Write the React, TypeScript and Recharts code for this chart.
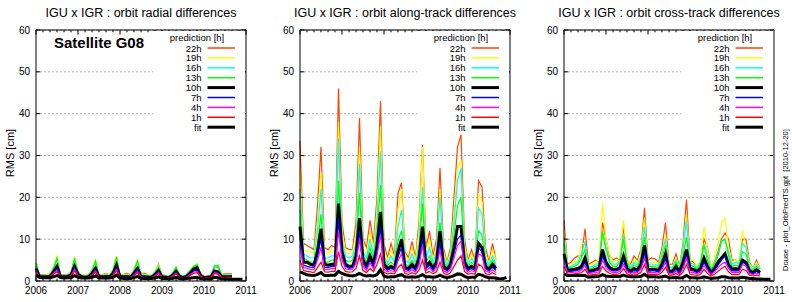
import { LineChart, Line, XAxis, YAxis, CartesianGrid, ReferenceLine } from "recharts";

// monthly sampling, 2006.0 .. 2010.92
const MONTHS = Array.from({ length: 60 }, (_, i) => 2006 + i / 12);
const YEAR_TICKS = [2006, 2007, 2008, 2009, 2010, 2011];
const MINOR_TICKS = Array.from({ length: 31 }, (_, i) => 2006 + i / 6).filter((v) => Math.abs(v - Math.round(v)) > 0.01);
const RMS_TICKS = [0, 10, 20, 30, 40, 50, 60];

// ---- radial ----
const RADIAL_22H = [
  3.5, 1.6, 1.5, 1.5, 1.7, 3, 5, 1.6, 1.4, 1.6,
  2, 4.5, 2.2, 1.5, 1.3, 1.5, 2.5, 4.5, 1.4, 1.5,
  1.8, 1.5, 2.5, 5, 1.5, 1.6, 1.8, 1.4, 2.5, 4.5,
  1.8, 1.8, 1.5, 1.3, 2.2, 4, 1.5, 1.3, 1.2, 1.8,
  3.3, 1.6, 1.1, 1.5, 2.5, 3.5, 4, 1.8, 1.1, 1.2,
  1.4, 3.5, 3.2, 1.6, 1.7, 1.7, 1.7,
];
const RADIAL_19H = [
  4.5, 1.5, 1.4, 1.4, 1.6, 3.5, 6, 1.5, 1.3, 1.5,
  2.2, 5.5, 2.4, 1.4, 1.2, 1.4, 2.8, 5, 1.3, 1.4,
  1.7, 1.4, 2.8, 6, 1.4, 1.5, 1.6, 1.3, 2.8, 5,
  1.7, 1.6, 1.4, 1.2, 2.4, 3.8, 1.4, 1.2, 1.1, 2,
  3.4, 1.7, 1, 1.6, 2.6, 3.6, 4.2, 1.8, 1, 1.1,
  1.3, 3.6, 3.5, 1.5, 1.5, 1.5, 1.5,
];
const RADIAL_16H = [
  4, 1.4, 1.3, 1.3, 1.5, 3.2, 5, 1.4, 1.3, 1.4,
  2, 5, 2.2, 1.3, 1.2, 1.3, 2.5, 4.5, 1.3, 1.3,
  1.5, 1.3, 2.5, 5, 1.3, 1.3, 1.4, 1.2, 2.6, 4.5,
  1.5, 1.4, 1.3, 1.2, 2.2, 3.5, 1.3, 1.1, 1.1, 1.9,
  3.2, 1.6, 1, 1.5, 2.5, 3.5, 4, 1.7, 1, 1.1,
  1.3, 3.7, 3.6, 1.5, 1.4, 1.4, 1.4,
];
const RADIAL_13H = [
  4.3, 1.3, 1.2, 1.2, 1.4, 3, 5.5, 1.3, 1.2, 1.3,
  1.8, 5.5, 2, 1.2, 1.1, 1.2, 2.4, 4.8, 1.2, 1.2,
  1.4, 1.2, 2.5, 5.8, 1.2, 1.2, 1.3, 1.1, 2.5, 4.8,
  1.3, 1.3, 1.2, 1.1, 2, 3.3, 1.2, 1, 1, 1.8,
  3.3, 1.5, 0.9, 1.4, 2.4, 3.4, 3.8, 1.6, 0.9, 1,
  1.2, 3.4, 3.8, 1.4, 1.3, 1.3, 1.3,
];
const RADIAL_10H = [
  3, 1, 1, 1, 1.1, 2.2, 3.5, 1.1, 1, 1.1,
  1.4, 3.5, 1.6, 1, 0.9, 1, 1.8, 3, 1, 1,
  1.1, 1, 1.8, 3.8, 1, 1, 1.1, 0.9, 1.8, 3,
  1, 1, 0.9, 0.9, 1.5, 2.5, 1, 0.9, 0.8, 1.3,
  2.3, 1.1, 0.8, 1.1, 1.8, 2.8, 3.2, 1.3, 0.8, 0.9,
  1, 2.4, 2.2, 1, 1, 1, 1,
];
const RADIAL_7H = [
  2.8, 1, 0.9, 0.9, 1, 2, 3, 1, 0.9, 1,
  1.3, 3.2, 1.5, 0.9, 0.9, 0.9, 1.6, 2.8, 0.9, 0.9,
  1, 0.9, 1.6, 3.3, 0.9, 0.9, 1, 0.9, 1.6, 2.8,
  1, 0.9, 0.9, 0.8, 1.4, 2.3, 0.9, 0.8, 0.8, 1.2,
  2.1, 1, 0.8, 1, 1.7, 2.4, 2.6, 1.2, 0.8, 0.8,
  0.9, 2.2, 2, 1, 0.9, 0.9, 0.9,
];
const RADIAL_4H = [
  2.4, 0.9, 0.9, 0.9, 0.9, 1.8, 2.5, 0.9, 0.9, 1,
  1.2, 2.8, 1.3, 0.9, 0.8, 0.9, 1.4, 2.4, 0.9, 0.9,
  1, 0.9, 1.4, 2.8, 0.9, 0.8, 0.9, 0.8, 1.4, 2.3,
  0.9, 0.9, 0.8, 0.8, 1.2, 2, 0.8, 0.8, 0.7, 1.1,
  1.9, 0.9, 0.7, 0.9, 1.5, 2.1, 2.3, 1.1, 0.7, 0.8,
  0.8, 2, 1.8, 0.9, 0.9, 0.9, 0.9,
];
const RADIAL_1H = [
  2.2, 0.9, 0.8, 0.8, 0.9, 1.6, 2.2, 0.9, 0.8, 0.9,
  1.1, 2.4, 1.2, 0.8, 0.8, 0.8, 1.3, 2.1, 0.8, 0.8,
  0.9, 0.8, 1.3, 2.4, 0.8, 0.8, 0.8, 0.8, 1.2, 2,
  0.8, 0.8, 0.7, 0.7, 1.1, 1.8, 0.8, 0.7, 0.7, 1,
  1.7, 0.9, 0.7, 0.8, 1.3, 1.8, 2, 1, 0.7, 0.7,
  0.8, 1.8, 1.6, 0.8, 0.8, 0.8, 0.8,
];
const RADIAL_FIT = [
  1.5, 0.9, 0.8, 0.8, 0.8, 1, 1.3, 0.8, 0.7, 0.8,
  0.8, 1.3, 0.9, 0.7, 0.7, 0.7, 0.9, 1.2, 0.7, 0.7,
  0.8, 0.7, 0.9, 1.4, 0.7, 0.6, 0.6, 0.6, 0.8, 1.1,
  0.6, 0.6, 0.6, 0.6, 0.7, 1, 0.6, 0.6, 0.5, 0.6,
  0.9, 0.6, 0.5, 0.6, 0.7, 0.8, 0.9, 0.6, 0.5, 0.5,
  0.5, 0.9, 0.8, 0.5, 0.5, 0.4, 0.4, 0.4, 0.4, 0.4,
];

// ---- along-track ----
const ALONG_22H = [
  33.5, 9, 8.5, 8, 7.5, 18, 32, 8, 7.5, 8.5,
  8, 46, 14, 8, 7.5, 7.5, 14, 39, 10, 8,
  14.5, 9, 20, 43, 9, 5.5, 9, 6, 21, 23.5,
  7, 5.5, 9.5, 5.5, 14, 32.5, 8, 12, 6, 10,
  27, 8, 4.5, 8, 20, 32, 35, 10, 5, 7.5,
  5, 24, 22.5, 8, 4.5, 9, 5,
];
const ALONG_19H = [
  27, 7.5, 7, 7, 6.5, 14, 26, 6.5, 6.5, 7.5,
  7, 38, 12, 7, 6.5, 7, 11, 32, 8, 6.5,
  12, 7.5, 17, 37, 7.5, 5, 7.5, 5, 17, 22,
  6, 5, 8, 5, 12, 32, 7, 10, 5, 8,
  22, 7, 4.2, 7, 16, 27, 29, 8.5, 4.5, 6.5,
  4.5, 21, 19, 6.5, 4.2, 7.5, 5,
];
const ALONG_16H = [
  22, 6.5, 6, 5.5, 5.5, 12, 22, 5.5, 5.5, 6,
  6, 34, 10, 6, 5.5, 6, 9, 28, 7, 5.5,
  10, 6, 14, 31, 6, 4.3, 6, 4.5, 13, 17,
  5, 4.3, 6.5, 4.3, 9, 22.5, 5.5, 8, 4.5, 7,
  20, 6, 3.8, 6, 14, 24, 27, 7, 4, 5.5,
  4, 17.5, 16, 5.5, 3.8, 6, 4,
];
const ALONG_13H = [
  17, 5.5, 5, 4.5, 4.5, 9, 16, 4.5, 4.5, 5,
  5, 24, 8, 5, 4.5, 5, 7.5, 21, 6, 4.5,
  8, 5, 11, 23, 5, 3.7, 4.5, 3.8, 9.5, 12,
  4, 3.6, 5, 3.6, 7, 18.5, 4.5, 6, 3.8, 5.5,
  14, 4.5, 3.3, 5, 11, 18, 20, 5.5, 3.5, 4.5,
  3.5, 12, 11, 4.5, 3.3, 5, 3.5,
];
const ALONG_10H = [
  13, 4.5, 4.5, 4, 3.8, 7, 12.5, 4, 3.8, 4,
  4, 18.5, 7, 4, 3.5, 3.5, 6, 15, 5, 3.5,
  6, 4, 8.5, 16.5, 4, 3, 3.5, 3, 7, 10,
  3.2, 3, 4, 3, 5.5, 13, 3.5, 4.5, 3, 4.5,
  12, 3.5, 2.8, 4, 8, 13, 13, 4.5, 3, 3.5,
  3, 9, 8, 3.5, 2.8, 4, 3,
];
const ALONG_7H = [
  10.5, 3.8, 3.5, 3.3, 3.2, 6, 10, 3.3, 3.2, 3.5,
  3.5, 15, 6, 3.5, 3, 3.2, 5, 12, 4.2, 3,
  5, 3.4, 7, 13, 3.3, 2.6, 3, 2.6, 5.8, 8,
  2.8, 2.5, 3.3, 2.5, 4.5, 10.5, 3, 3.8, 2.6, 3.8,
  9.5, 3, 2.4, 3.3, 6.5, 10, 11, 3.8, 2.5, 3,
  2.5, 8, 7, 3, 2.4, 3.3, 2.5,
];
const ALONG_4H = [
  8.5, 3.2, 3, 2.8, 2.7, 5, 8, 2.8, 2.7, 3,
  3, 12, 5, 3, 2.7, 2.8, 4.2, 10, 3.5, 2.6,
  4.3, 2.9, 6, 11, 2.8, 2.2, 2.5, 2.2, 4.8, 6.5,
  2.3, 2.1, 2.7, 2.1, 3.8, 8.5, 2.5, 3.2, 2.2, 3.2,
  7.5, 2.5, 2, 2.8, 5.5, 8.5, 9.5, 3.2, 2.1, 2.5,
  2.1, 6.5, 6, 2.5, 2, 2.7, 2,
];
const ALONG_1H = [
  5, 2.5, 2.3, 2.2, 2, 3.2, 4.5, 2.2, 2.1, 2.3,
  2.3, 7, 3.5, 2.3, 2.1, 2.2, 3, 6, 2.5, 2,
  3, 2.2, 4, 6.5, 2.1, 1.7, 1.9, 1.7, 3.2, 4,
  1.8, 1.6, 2, 1.6, 2.6, 5, 1.9, 2.3, 1.7, 2.2,
  4.5, 1.9, 1.5, 2, 3.5, 5, 6, 2.3, 1.6, 1.8,
  1.6, 4, 3.5, 1.8, 1.5, 2, 1.5,
];
const ALONG_FIT = [
  2.2, 1.8, 1.5, 1.4, 1.3, 1.6, 2, 1.3, 1.3, 1.4,
  1.4, 2.3, 1.8, 1.5, 1.3, 1.2, 1.4, 1.8, 1.4, 1.2,
  1.3, 1.2, 1.5, 2.7, 1.2, 0.9, 1, 1, 1.3, 1.5,
  1, 0.9, 1, 0.9, 1.1, 1.5, 1, 1, 0.9, 1,
  1.4, 1, 0.8, 1, 1.3, 1.7, 1.6, 1.1, 0.8, 0.9,
  0.9, 1.6, 1.4, 1, 0.8, 0.8, 0.7, 0.5, 0.6, 0.8,
];

// ---- cross-track ----
const CROSS_22H = [
  14.5, 4, 4.5, 5.5, 6, 6, 12.5, 4, 4.5, 5,
  4.5, 14, 10, 6, 5, 5.5, 5, 13, 5, 4,
  6, 5, 7.5, 17.5, 5, 5.5, 5.3, 4.5, 8, 14,
  4, 4, 6.5, 3.5, 9, 19.5, 5, 4.5, 3.5, 4.5,
  10, 8, 3, 4.5, 7, 10, 11.5, 10, 5, 5,
  4.5, 10, 10, 4.5, 3, 5, 3,
];
const CROSS_19H = [
  12, 3.8, 4, 4.5, 5, 9, 9, 3.5, 4, 4.5,
  5, 18.5, 10, 6.5, 4.5, 4.5, 6, 14.5, 5.5, 3.5,
  5, 4.2, 7, 15, 4.5, 4.5, 4.5, 4, 7, 11,
  3.5, 3.5, 5.5, 3.2, 8, 16, 4.8, 5, 3.5, 4.5,
  13, 7.5, 3, 6, 9, 14, 15, 8, 4.5, 5,
  4.5, 12, 8.5, 4, 3, 4.5, 3,
];
const CROSS_16H = [
  10.5, 3.3, 3.5, 4, 4.5, 6.5, 9.5, 3.2, 3.5, 4,
  4.2, 12, 8, 5, 4, 4, 5, 11, 4.5, 3.2,
  4.5, 3.8, 6, 13, 4, 4, 4, 3.5, 6.5, 10,
  3.2, 3.2, 5, 3, 7.5, 14.5, 4.3, 4, 3.2, 4.5,
  9, 6, 2.8, 4.5, 6.5, 9.5, 10, 7, 4, 4.5,
  4, 9, 8, 3.5, 2.8, 4, 2.8,
];
const CROSS_13H = [
  9, 3, 3.2, 3.5, 4, 5.5, 7.5, 2.8, 3, 3.5,
  3.8, 11.5, 7.5, 4.5, 3.5, 3.5, 4.5, 10, 4, 2.8,
  3.8, 3.3, 5.5, 10.5, 3.5, 3.5, 3.5, 3, 5.5, 8.5,
  2.8, 2.8, 4.5, 2.6, 6, 10.5, 3.8, 3.5, 2.8, 4,
  8.5, 5, 2.5, 4, 6, 9.5, 10, 6, 3.5, 3.8,
  3.5, 7, 6.5, 3, 2.5, 3.5, 2.5,
];
const CROSS_10H = [
  6.5, 2.5, 2.7, 2.8, 3, 3.5, 5.5, 2.3, 2.5, 2.8,
  3, 7.5, 4.5, 3.2, 2.8, 2.8, 3.2, 6, 3, 2.3,
  3, 2.6, 4, 8.5, 2.7, 2.8, 2.8, 2.5, 4, 6.5,
  2.3, 2.3, 3.5, 2.2, 4.5, 7.5, 3, 2.8, 2.3, 3,
  5.5, 3.5, 2, 3, 4.5, 5.5, 6.5, 4, 2.8, 3,
  2.8, 5, 4.5, 2.4, 2, 2.7, 2,
];
const CROSS_7H = [
  5.5, 2.2, 2.3, 2.4, 2.6, 3, 4.5, 2, 2.2, 2.4,
  2.6, 6, 3.8, 2.8, 2.4, 2.4, 2.8, 5, 2.6, 2,
  2.5, 2.3, 3.3, 7, 2.3, 2.4, 2.4, 2.2, 3.3, 5.5,
  2, 2, 2.8, 1.9, 3.5, 6.5, 2.5, 2.4, 2, 2.5,
  4.5, 3, 1.8, 2.6, 3.8, 5, 6, 3.5, 2.4, 2.5,
  2.4, 4.5, 4, 2.1, 1.8, 2.3, 1.8,
];
const CROSS_4H = [
  4.8, 1.9, 2, 2.1, 2.2, 2.6, 3.8, 1.8, 1.9, 2,
  2.2, 5, 3.2, 2.4, 2, 2, 2.3, 4, 2.2, 1.8,
  2.1, 2, 2.8, 5.5, 2, 2, 2, 1.9, 2.8, 4.5,
  1.7, 1.7, 2.3, 1.6, 2.8, 5.5, 2.1, 2, 1.7, 2.1,
  3.8, 2.5, 1.5, 2.2, 3.2, 4, 4.5, 3, 2, 2.1,
  2, 4, 3.5, 1.8, 1.5, 1.9, 1.5,
];
const CROSS_1H = [
  3.5, 1.5, 1.6, 1.7, 1.8, 2, 2.8, 1.4, 1.5, 1.6,
  1.7, 3.5, 2.4, 1.8, 1.6, 1.6, 1.8, 3, 1.7, 1.4,
  1.7, 1.6, 2.1, 4, 1.6, 1.6, 1.6, 1.5, 2.1, 3.3,
  1.4, 1.4, 1.8, 1.3, 2.1, 4, 1.6, 1.5, 1.3, 1.6,
  2.8, 1.8, 1.2, 1.6, 2.3, 3, 3.5, 2.2, 1.5, 1.6,
  1.5, 2.8, 2.5, 1.4, 1.2, 1.4, 1.2,
];
const CROSS_FIT = [
  1.7, 1.3, 1.3, 1.3, 1.3, 1.3, 1.3, 0.9, 1, 1,
  1.1, 1.5, 1.2, 1.1, 1.1, 1.1, 1.1, 1.4, 1.1, 1,
  1, 1, 1.1, 1.6, 1, 1, 1, 0.9, 1, 1.2,
  0.8, 0.8, 0.9, 0.7, 0.8, 1.3, 0.8, 0.8, 0.7, 0.8,
  1, 0.8, 0.6, 0.7, 0.8, 1, 1, 0.8, 0.7, 0.7,
  0.7, 0.9, 0.8, 0.6, 0.6, 0.5, 0.5, 0.4, 0.4, 0.4,
];

const SERIES = [
  { key: "h22", name: "22h", color: "#ff4500", width: 1.2 },
  { key: "h19", name: "19h", color: "#ffff00", width: 1.2 },
  { key: "h16", name: "16h", color: "#00ffff", width: 1.2 },
  { key: "h13", name: "13h", color: "#00ff00", width: 1.2 },
  { key: "h10", name: "10h", color: "#000000", width: 3 },
  { key: "h7", name: "7h", color: "#0000ff", width: 1.2 },
  { key: "h4", name: "4h", color: "#ff00ff", width: 1.2 },
  { key: "h1", name: "1h", color: "#ff0000", width: 1.2 },
  { key: "fit", name: "fit", color: "#000000", width: 3 },
];

type Row = { t: number; [k: string]: number | undefined };

function buildRows(cols: Record<string, number[]>): Row[] {
  return MONTHS.map((t, i) => {
    const row: Row = { t };
    for (const k of Object.keys(cols)) row[k] = cols[k][i];
    return row;
  });
}

const PANELS = [
  {
    title: "IGU x IGR : orbit radial differences",
    rows: buildRows({ h22: RADIAL_22H, h19: RADIAL_19H, h16: RADIAL_16H, h13: RADIAL_13H, h10: RADIAL_10H, h7: RADIAL_7H, h4: RADIAL_4H, h1: RADIAL_1H, fit: RADIAL_FIT }),
  },
  {
    title: "IGU x IGR : orbit along-track differences",
    rows: buildRows({ h22: ALONG_22H, h19: ALONG_19H, h16: ALONG_16H, h13: ALONG_13H, h10: ALONG_10H, h7: ALONG_7H, h4: ALONG_4H, h1: ALONG_1H, fit: ALONG_FIT }),
  },
  {
    title: "IGU x IGR : orbit cross-track differences",
    rows: buildRows({ h22: CROSS_22H, h19: CROSS_19H, h16: CROSS_16H, h13: CROSS_13H, h10: CROSS_10H, h7: CROSS_7H, h4: CROSS_4H, h1: CROSS_1H, fit: CROSS_FIT }),
  },
];

const FONT = "'Liberation Sans', Arial, Helvetica, sans-serif";
const W = 264;
const H = 302;
const PL = 36; // plot left inside a panel
const PR = 246; // plot right
const PT = 30;
const PB = 281;

function Panel({ title, rows, first, last }: { title: string; rows: Row[]; first: boolean; last: boolean }) {
  const tickStyle = { fontSize: 10, fill: "#000", fontFamily: FONT };
  return (
    <div style={{ position: "relative", width: W, height: H }}>
      <LineChart width={W} height={H} data={rows} margin={{ top: PT, right: W - PR, left: 0, bottom: 0 }}>
        <CartesianGrid vertical={false} stroke="#b0b0b0" strokeDasharray="2 2" />
        <XAxis
          dataKey="t"
          type="number"
          domain={[2006, 2011]}
          ticks={YEAR_TICKS}
          interval={0}
          axisLine={false}
          tickLine={false}
          tickSize={4}
          tickMargin={2}
          height={H - PB}
          tick={tickStyle}
        />
        <YAxis
          type="number"
          domain={[0, 60]}
          ticks={RMS_TICKS}
          interval={0}
          axisLine={false}
          tickLine={false}
          tickSize={4}
          tickMargin={2}
          width={PL}
          tick={tickStyle}
        />
        {SERIES.map((s) => (
          <Line
            key={s.key}
            type="linear"
            dataKey={s.key}
            stroke={s.color}
            strokeWidth={s.width}
            dot={false}
            activeDot={false}
            connectNulls={false}
            isAnimationActive={false}
          />
        ))}
        {/* inward tick marks, gnuplot style */}
        {YEAR_TICKS.map((y) => (
          <ReferenceLine key={`xb${y}`} segment={[{ x: y, y: 0 }, { x: y, y: 1.1 }]} stroke="#000" />
        ))}
        {YEAR_TICKS.map((y) => (
          <ReferenceLine key={`xt${y}`} segment={[{ x: y, y: 58.9 }, { x: y, y: 60 }]} stroke="#000" />
        ))}
        {MINOR_TICKS.map((y) => (
          <ReferenceLine key={`mb${y}`} segment={[{ x: y, y: 0 }, { x: y, y: 0.55 }]} stroke="#000" />
        ))}
        {MINOR_TICKS.map((y) => (
          <ReferenceLine key={`mt${y}`} segment={[{ x: y, y: 59.45 }, { x: y, y: 60 }]} stroke="#000" />
        ))}
        {RMS_TICKS.map((v) => (
          <ReferenceLine key={`yl${v}`} segment={[{ x: 2006, y: v }, { x: 2006.1, y: v }]} stroke="#000" />
        ))}
        {RMS_TICKS.map((v) => (
          <ReferenceLine key={`yr${v}`} segment={[{ x: 2010.9, y: v }, { x: 2011, y: v }]} stroke="#000" />
        ))}
        {/* frame */}
        <ReferenceLine x={2006} stroke="#000" />
        <ReferenceLine x={2011} stroke={last ? "#888" : "#000"} strokeWidth={last ? 2 : 1} />
        <ReferenceLine y={0} stroke="#000" />
        <ReferenceLine y={60} stroke="#000" />
      </LineChart>
      <svg
        width={W}
        height={H}
        style={{ position: "absolute", left: 0, top: 0, pointerEvents: "none", fontFamily: FONT }}
      >
        <text x={(PL + PR) / 2} y={17} textAnchor="middle" fontSize={12.5} fill="#000">
          {title}
        </text>
        <text
          x={10}
          y={153}
          transform="rotate(-90 10 153)"
          textAnchor="middle"
          dominantBaseline="central"
          fontSize={11}
          fill="#000"
        >
          RMS [cm]
        </text>
        {first && (
          <text x={54} y={47.5} fontSize={15} fontWeight="bold" fill="#000">
            Satellite G08
          </text>
        )}
        <rect x={PL + 117} y={PT + 1} width={PR - PL - 118} height={103} fill="#fff" />
        <text x={PL + 161} y={37} textAnchor="middle" dominantBaseline="central" fontSize={9.5} fill="#000">
          prediction [h]
        </text>
        {SERIES.map((s, k) => {
          const cy = 48 + 9.9 * k;
          return (
            <g key={s.key}>
              <text x={PL + 165.5} y={cy} textAnchor="end" dominantBaseline="central" fontSize={9.5} fill="#000">
                {s.name}
              </text>
              <line
                x1={PL + 171.5}
                x2={PL + 199}
                y1={cy}
                y2={cy}
                stroke={s.color}
                strokeWidth={s.width > 2 ? 3 : 1.5}
              />
            </g>
          );
        })}
        {last && (
          <text
            x={257}
            y={200}
            transform="rotate(-90 257 200)"
            textAnchor="middle"
            dominantBaseline="central"
            fontSize={7.5}
            fill="#000"
            style={{ whiteSpace: "pre" }}
          >
            {"Douse - plot_OrbPredTS.gpt  [2010-12-20]"}
          </text>
        )}
      </svg>
    </div>
  );
}

export default function App() {
  return (
    <div style={{ position: "absolute", left: 0, top: 0, width: 792, height: 302, background: "#fff", display: "flex" }}>
      {PANELS.map((p, i) => (
        <Panel key={p.title} title={p.title} rows={p.rows} first={i === 0} last={i === PANELS.length - 1} />
      ))}
    </div>
  );
}
